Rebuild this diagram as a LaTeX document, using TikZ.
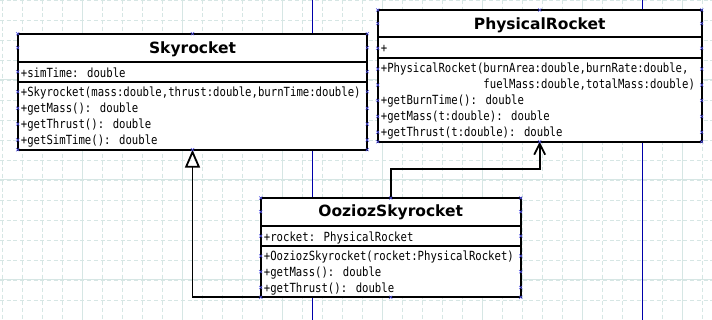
\documentclass[tikz,border=0pt]{standalone}
\usepackage{fontspec}
\usetikzlibrary{arrows.meta}

\newfontfamily\umlmono[FakeStretch=0.845]{DejaVu Sans Mono}
\newfontfamily\umlsans{DejaVu Sans}

\definecolor{gridcol}{RGB}{214,230,228}
\definecolor{pagecol}{RGB}{0,0,170}
\definecolor{cpcol}{RGB}{80,80,230}

\tikzset{
  classbox/.style={draw, fill=white, line width=1.8pt, inner sep=0pt, outer sep=0pt},
  classname/.style={font=\umlsans\bfseries\fontsize{15.5}{18}\selectfont, inner sep=0pt, anchor=base},
  member/.style={font=\umlmono\fontsize{12.6}{16}\selectfont, inner sep=0pt, anchor=base west},
  umlline/.style={line width=1.8pt},
  gridminor/.style={gridcol, line width=0.8pt, dash pattern=on 4pt off 2.7pt},
  gridmajor/.style={gridcol, line width=1pt},
  cpoint/.pic={\draw[cpcol, line width=0.5pt] (-1.6,-1.6) -- (1.6,1.6) (-1.6,1.6) -- (1.6,-1.6);}
}

\begin{document}
\begin{tikzpicture}[x=1pt, y=-1pt]

    \useasboundingbox (0,0) rectangle (712,320);
    \fill[white] (0,0) rectangle (712,320);

    % Griglia
    \foreach \i in {0,...,35}
        \draw[gridminor] ({2.7+20*\i},0) -- ({2.7+20*\i},320);
    \foreach \i in {0,...,16}
        \draw[gridminor] (0,{20*\i}) -- (712,{20*\i});
    \foreach \i in {0,...,6}
        \draw[gridmajor] ({82.7+100*\i},0) -- ({82.7+100*\i},320);
    \foreach \y in {80,180,280}
        \draw[gridmajor] (0,\y) -- (712,\y);

    % Bordi di pagina
    \draw[pagecol, line width=1pt] (312.3,0) -- (312.3,320);
    \draw[pagecol, line width=1pt] (642.3,0) -- (642.3,320);

    % Classe Skyrocket
    \node[classbox, minimum width=349.6pt, minimum height=116pt] (sky) at (192.5,91.7) {};
    \draw[umlline] (sky.west |- 0,61.7) -- (sky.east |- 0,61.7);
    \draw[umlline] (sky.west |- 0,81.7) -- (sky.east |- 0,81.7);
    \node[classname] (sky-name) at (192.5,53.3) {Skyrocket};
    \node[member] (sky-attr1) at (20.7,77.3) {+simTime: double};
    \node[member] (sky-op1) at (20.7,96.7) {+Skyrocket(mass:double,thrust:double,burnTime:double)};
    \node[member] (sky-op2) at (20.7,112.7) {+getMass(): double};
    \node[member] (sky-op3) at (20.7,128.7) {+getThrust(): double};
    \node[member] (sky-op4) at (20.7,144.7) {+getSimTime(): double};

    % Classe PhysicalRocket
    \node[classbox, minimum width=324pt, minimum height=131.7pt] (phys) at (539.7,75.85) {};
    \draw[umlline] (phys.west |- 0,37.3) -- (phys.east |- 0,37.3);
    \draw[umlline] (phys.west |- 0,57.7) -- (phys.east |- 0,57.7);
    \node[classname] (phys-name) at (539.7,29.3) {PhysicalRocket};
    \node[member] (phys-attr1) at (380.7,52.9) {+};
    \node[member] (phys-op1) at (380.7,73) {+PhysicalRocket(burnArea:double,burnRate:double,};
    \node[member] (phys-op1b) at (380.7,89) {\phantom{+PhysicalRocket(}fuelMass:double,totalMass:double)};
    \node[member] (phys-op2) at (380.7,105) {+getBurnTime(): double};
    \node[member] (phys-op3) at (380.7,121) {+getMass(t:double): double};
    \node[member] (phys-op4) at (380.7,137) {+getThrust(t:double): double};

    % Classe OoziozSkyrocket
    \node[classbox, minimum width=260pt, minimum height=99.3pt] (oozioz) at (390.7,247.65) {};
    \draw[umlline] (oozioz.west |- 0,225.7) -- (oozioz.east |- 0,225.7);
    \draw[umlline] (oozioz.west |- 0,246) -- (oozioz.east |- 0,246);
    \node[classname] (oozioz-name) at (390.7,216.7) {OoziozSkyrocket};
    \node[member] (oozioz-attr1) at (263.7,241.3) {+rocket: PhysicalRocket};
    \node[member] (oozioz-op1) at (263.7,260.8) {+OoziozSkyrocket(rocket:PhysicalRocket)};
    \node[member] (oozioz-op2) at (263.7,276.8) {+getMass(): double};
    \node[member] (oozioz-op3) at (263.7,292.8) {+getThrust(): double};

    % Generalizzazione
    \draw[umlline, -{Triangle[open, length=18pt, width=15pt]}] (oozioz.south west) -| (sky.south);

    % Associazione
    \draw[umlline, -{Straight Barb[length=11pt, width=11pt]}] (oozioz.north) -- ++(0,-29) -| (phys.south);

    % Punti di connessione
    \foreach \y in {33.7,47.7,71.7,91.7,108.3,124,140,149.7}
        \foreach \x in {17.7,367.3}
            \pic at (\x,\y) {cpoint};
    \foreach \y in {10,23.5,48.3,69,85,100.5,116.5,132.3,141.7}
        \foreach \x in {377.7,701.7}
            \pic at (\x,\y) {cpoint};
    \foreach \y in {198,211.7,236,256,271.7,287.5,297.3}
        \foreach \x in {260.7,520.7}
            \pic at (\x,\y) {cpoint};
    \foreach \x/\y in {192.5/33.7,192.5/149.7,539.7/10,539.7/141.7,390.7/198,390.7/297.3}
        \pic at (\x,\y) {cpoint};

\end{tikzpicture}
\end{document}
